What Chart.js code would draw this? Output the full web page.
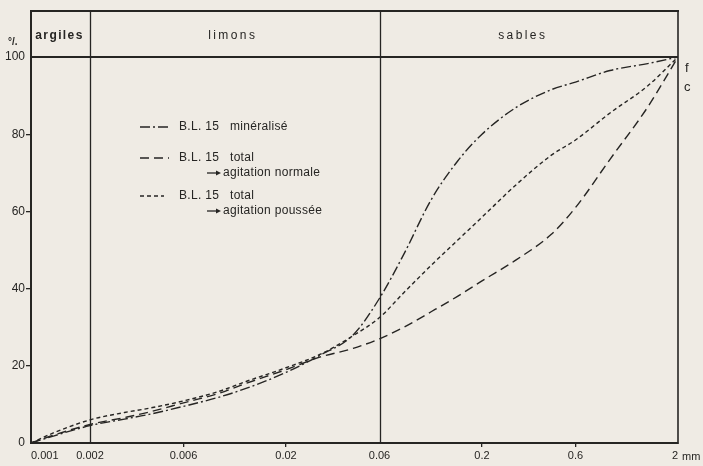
<!DOCTYPE html>
<html>
<head>
<meta charset="utf-8">
<script src="https://cdn.jsdelivr.net/npm/chart.js@4/dist/chart.umd.min.js"></script>
<style>
  html, body { margin: 0; padding: 0; background: #efebe4; }
  #wrap { width: 703px; height: 466px; }
</style>
</head>
<body>
<div id="wrap"><canvas id="c" width="703" height="466"></canvas></div>
<script>
// Particle diameters (mm) at which the cumulative curves are sampled
const diameters = [0.001, 0.0013, 0.002, 0.003, 0.004, 0.006, 0.009, 0.0126, 0.02, 0.03, 0.044, 0.06, 0.08, 0.11, 0.15, 0.2, 0.3, 0.45, 0.6, 0.9, 1.4, 2];

// Cumulative percentages finer than each diameter
const mineralise   = [0, 1.8, 4.5, 6.2, 7.4, 9.5, 11.8, 14.2, 18.3, 22.8, 28.0, 37.5, 49.0, 63.0, 73.0, 80.0, 87.0, 91.5, 93.5, 96.5, 98.3, 100];
const totalNormale = [0, 2.0, 4.8, 6.6, 8.0, 10.4, 12.8, 15.5, 19.0, 22.3, 24.5, 27.0, 30.0, 34.0, 38.0, 42.0, 47.5, 54.0, 61.0, 73.5, 87.0, 100];
const totalPoussee = [0, 2.6, 6.0, 7.9, 9.0, 10.9, 13.3, 16.0, 19.5, 23.0, 27.8, 32.5, 39.0, 46.0, 52.5, 58.5, 67.0, 74.5, 78.5, 85.5, 92.5, 100];

// Axis ticks
const xTickValues = [0.001, 0.002, 0.006, 0.02, 0.06, 0.2, 0.6, 2];
const xTickLabels = ['0.001', '0.002', '0.006', '0.02', '0.06', '0.2', '0.6', '2'];
const yTickValues = [0, 20, 40, 60, 80, 100];

// Texture classes shown in the header band
const classNames = ['argiles', 'limons', 'sables'];
const classBounds = [0.001, 0.002, 0.06, 2];

const INK = '#262523';
const PAPER = '#efebe4';
const DASH_DOT = [10, 3, 2, 3];
const DASH_LONG = [9, 5];
const DASH_SHORT = [4, 3];

function toPoints(values) {
  return diameters.map((d, i) => ({ x: d, y: values[i] }));
}

const paperPlugin = {
  id: 'paper',
  beforeDraw(chart) {
    const ctx = chart.ctx;
    ctx.save();
    ctx.fillStyle = PAPER;
    ctx.fillRect(0, 0, chart.width, chart.height);
    ctx.restore();
  }
};

const framePlugin = {
  id: 'frame',
  afterDraw(chart) {
    const ctx = chart.ctx;
    const area = chart.chartArea;
    const xs = chart.scales.x;
    const topY = 11;
    ctx.save();
    ctx.strokeStyle = INK;
    ctx.lineCap = 'butt';

    // header band outline
    ctx.lineWidth = 2;
    ctx.beginPath();
    ctx.moveTo(area.left - 1, topY); ctx.lineTo(area.right + 1, topY);
    ctx.moveTo(area.left, area.top); ctx.lineTo(area.right, area.top);
    ctx.moveTo(area.left, topY); ctx.lineTo(area.left, area.top);
    ctx.stroke();

    ctx.lineWidth = 1.6;
    ctx.beginPath();
    ctx.moveTo(area.right, topY); ctx.lineTo(area.right, area.bottom + 1);
    ctx.stroke();

    // class boundaries
    ctx.lineWidth = 1.3;
    ctx.beginPath();
    [classBounds[1], classBounds[2]].forEach(v => {
      const px = Math.round(xs.getPixelForValue(v)) + 0.5;
      ctx.moveTo(px, topY); ctx.lineTo(px, area.bottom);
    });
    ctx.stroke();

    // class names
    ctx.fillStyle = INK;
    ctx.textAlign = 'center';
    ctx.textBaseline = 'middle';
    const midY = 36;
    const nudge = [-1, -2, -6];
    classNames.forEach((name, i) => {
      const x0 = xs.getPixelForValue(classBounds[i]);
      const x1 = xs.getPixelForValue(classBounds[i + 1]);
      if (i === 0) {
        ctx.font = 'bold 12px "Liberation Sans", Arial, sans-serif';
        ctx.letterSpacing = '1.4px';
      } else {
        ctx.font = '12px "Liberation Sans", Arial, sans-serif';
        ctx.letterSpacing = '2.4px';
      }
      ctx.fillText(name, (x0 + x1) / 2 + nudge[i], midY);
    });
    ctx.letterSpacing = '0px';

    // unit labels
    ctx.font = 'bold 10px "Liberation Sans", Arial, sans-serif';
    ctx.textAlign = 'left';
    ctx.fillText('°/.', 8, 42);
    ctx.font = '11px "Liberation Sans", Arial, sans-serif';
    ctx.fillText('mm', 682, 457);

    // text running off the right edge
    ctx.font = '13px "Liberation Sans", Arial, sans-serif';
    ctx.fillText('f', 685, 68);
    ctx.fillText('c', 684, 87);

    // legend
    const rows = [
      { y: 127, dash: DASH_DOT, x1: 170, name: 'minéralisé' },
      { y: 158, dash: DASH_LONG, x1: 169, name: 'total', sub: 'agitation normale' },
      { y: 196, dash: DASH_SHORT, x1: 164, name: 'total', sub: 'agitation poussée' }
    ];
    ctx.font = '12px "Liberation Sans", Arial, sans-serif';
    ctx.letterSpacing = '0.3px';
    ctx.textBaseline = 'middle';
    rows.forEach(r => {
      ctx.lineWidth = 1.4;
      ctx.setLineDash(r.dash);
      ctx.beginPath();
      ctx.moveTo(140, r.y); ctx.lineTo(r.x1, r.y);
      ctx.stroke();
      ctx.setLineDash([]);
      ctx.fillText('B.L. 15', 179, r.y);
      ctx.fillText(r.name, 230, r.y);
      if (r.sub) {
        const sy = r.y + 15;
        ctx.lineWidth = 1.3;
        ctx.beginPath();
        ctx.moveTo(207, sy); ctx.lineTo(217, sy);
        ctx.stroke();
        ctx.beginPath();
        ctx.moveTo(221, sy); ctx.lineTo(216, sy - 2.5); ctx.lineTo(216, sy + 2.5);
        ctx.closePath();
        ctx.fill();
        ctx.fillText(r.sub, 223, sy);
      }
    });
    ctx.restore();
  }
};

const lineStyle = (dash) => ({
  showLine: true,
  borderColor: INK,
  borderWidth: 1.4,
  borderDash: dash,
  pointRadius: 0,
  fill: false,
  cubicInterpolationMode: 'monotone'
});

new Chart(document.getElementById('c'), {
  type: 'scatter',
  data: {
    datasets: [
      Object.assign({ label: 'B.L. 15 minéralisé', data: toPoints(mineralise) }, lineStyle(DASH_DOT)),
      Object.assign({ label: 'B.L. 15 total — agitation normale', data: toPoints(totalNormale) }, lineStyle(DASH_LONG)),
      Object.assign({ label: 'B.L. 15 total — agitation poussée', data: toPoints(totalPoussee) }, lineStyle(DASH_SHORT))
    ]
  },
  options: {
    responsive: false,
    animation: false,
    devicePixelRatio: 1,
    layout: { padding: { top: 57, right: 25, left: 0, bottom: 0 } },
    plugins: { legend: { display: false }, tooltip: { enabled: false } },
    scales: {
      x: {
        type: 'logarithmic',
        min: 0.001,
        max: 2,
        afterBuildTicks: s => { s.ticks = xTickValues.map(v => ({ value: v })); },
        afterFit: s => { s.height = 23; },
        ticks: {
          autoSkip: false,
          maxRotation: 0,
          align: 'inner',
          padding: 2,
          color: INK,
          font: { family: '"Liberation Sans", Arial, sans-serif', size: 11 },
          callback: v => {
            const i = xTickValues.findIndex(t => Math.abs(t - v) / t < 1e-6);
            return i >= 0 ? xTickLabels[i] : '';
          }
        },
        grid: {
          drawOnChartArea: false,
          drawTicks: true,
          tickLength: 4,
          lineWidth: 1.3,
          color: c => ([0.006, 0.02, 0.2, 0.6].some(t => c.tick && Math.abs(t - c.tick.value) / t < 1e-6) ? INK : 'rgba(0,0,0,0)')
        },
        border: { display: true, color: INK, width: 2 }
      },
      y: {
        min: 0,
        max: 100,
        afterBuildTicks: s => { s.ticks = yTickValues.map(v => ({ value: v })); },
        afterFit: s => { s.width = 31; },
        ticks: {
          padding: 1,
          color: INK,
          font: { family: '"Liberation Sans", Arial, sans-serif', size: 12 },
          callback: v => String(v)
        },
        grid: {
          drawOnChartArea: false,
          drawTicks: true,
          tickLength: 5,
          lineWidth: 1.3,
          color: c => (c.tick && (c.tick.value === 0 || c.tick.value === 100) ? 'rgba(0,0,0,0)' : INK)
        },
        border: { display: true, color: INK, width: 2 }
      }
    }
  },
  plugins: [paperPlugin, framePlugin]
});
</script>
</body>
</html>
